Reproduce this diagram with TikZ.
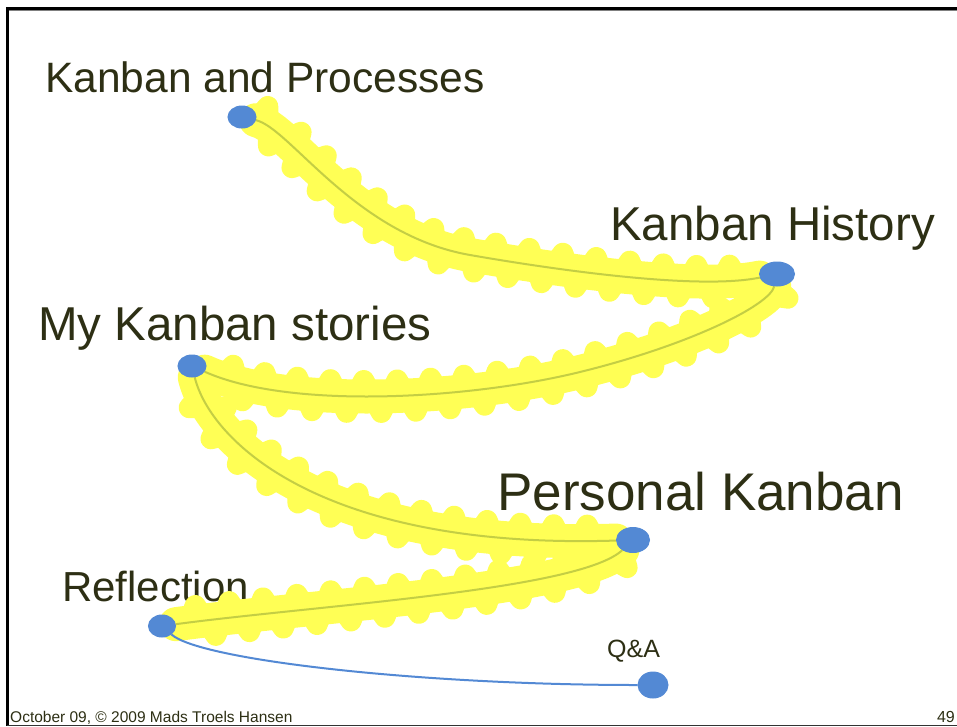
\documentclass[tikz,border=0pt]{standalone}
\usepackage{fontspec}
\setmainfont{Liberation Sans}
\usetikzlibrary{decorations.pathmorphing,shapes.geometric}
\definecolor{hlyellow}{RGB}{255,255,85}
\definecolor{olive}{RGB}{196,206,68}
\definecolor{dotblue}{RGB}{83,137,212}
\definecolor{txt}{RGB}{45,47,20}
\pgfdeclarelayer{bg}
\pgfsetlayers{bg,main}
\tikzset{
  title/.style={anchor=base west, inner sep=0pt, text=txt},
  dot/.style={ellipse, fill=dotblue, draw=dotblue, line width=1pt, inner sep=0pt},
  hlband/.style={draw=hlyellow, line width=21pt, line cap=round, line join=round,
     decorate, decoration={zigzag, amplitude=16pt, segment length=34pt}},
  hlcore/.style={draw=hlyellow, line width=34pt, line cap=round},
  trail/.style={draw=olive, line width=2pt},
  blueline/.style={draw=dotblue, line width=2pt},
}
\begin{document}
\begin{tikzpicture}[x=1pt,y=-1pt]
\useasboundingbox (0,0) rectangle (957,726);
% frame
\draw[line width=2.6pt] (957,8.5) -- (7.3,8.5) -- (7.3,726);
\draw[gray, line width=0.8pt] (8.6,10.4) -- (957,10.4);
\draw[black!80, line width=1pt] (7,725.5) -- (957,725.5);

% dots
\node[dot, minimum width=28pt, minimum height=22pt] (kp) at (242,117) {};
\node[dot, minimum width=35pt, minimum height=24pt] (kh) at (777,274) {};
\node[dot, minimum width=28pt, minimum height=22pt] (mk) at (192,366) {};
\node[dot, minimum width=33pt, minimum height=25pt] (pk) at (633,540) {};
\node[dot, minimum width=27pt, minimum height=22pt] (re) at (162,626) {};
\node[dot, minimum width=30pt, minimum height=26pt] (qa) at (653,685) {};

\begin{pgfonlayer}{bg}
% texts
\node[title, font=\fontsize{42.5}{46}\selectfont] (tkp) at (45,92) {Kanban and Processes};
\node[title, font=\fontsize{47.5}{50}\selectfont] (tkh) at (610,240) {Kanban History};
\node[title, font=\fontsize{47.5}{50}\selectfont] (tmk) at (38,340) {My Kanban stories};
\node[title, font=\fontsize{53}{56}\selectfont] (tpk) at (497,510) {Personal Kanban};
\node[title, font=\fontsize{42}{46}\selectfont] (tre) at (62,601) {Reflection};
\node[title, font=\fontsize{25}{28}\selectfont] (tqa) at (607,657) {Q\&A};
\node[title, font=\fontsize{15.5}{18}\selectfont] (foot) at (10,722.7) {October 09, © 2009 Mads Troels Hansen};
\node[anchor=base east, inner sep=0pt, text=txt, font=\fontsize{16}{18}\selectfont] (num) at (955,722.7) {49};

% highlighter bands
\foreach \s in {hlcore,hlband}{
\draw[\s] (kp) .. controls (290,128) and (355,235) .. (470,255)
              .. controls (562,271) and (700,290) .. (kh);
\draw[\s] (kh) .. controls (770,305) and (690,345) .. (580,372)
              .. controls (470,399) and (290,410) .. (mk);
\draw[\s] (mk) .. controls (210,440) and (320,550) .. (pk);
\draw[\s] (pk) .. controls (580,590) and (320,605) .. (re);
}

% thin trails
\draw[trail] (kp) .. controls (290,128) and (355,235) .. (470,255)
              .. controls (562,271) and (700,290) .. (kh);
\draw[trail] (kh) .. controls (770,305) and (690,345) .. (580,372)
              .. controls (470,399) and (290,410) .. (mk);
\draw[trail] (mk) .. controls (210,440) and (320,550) .. (pk);
\draw[trail] (pk) .. controls (580,590) and (320,605) .. (re);
\draw[blueline] (re) .. controls (200,660) and (420,685) .. (qa);
\end{pgfonlayer}
\end{tikzpicture}
\end{document}
